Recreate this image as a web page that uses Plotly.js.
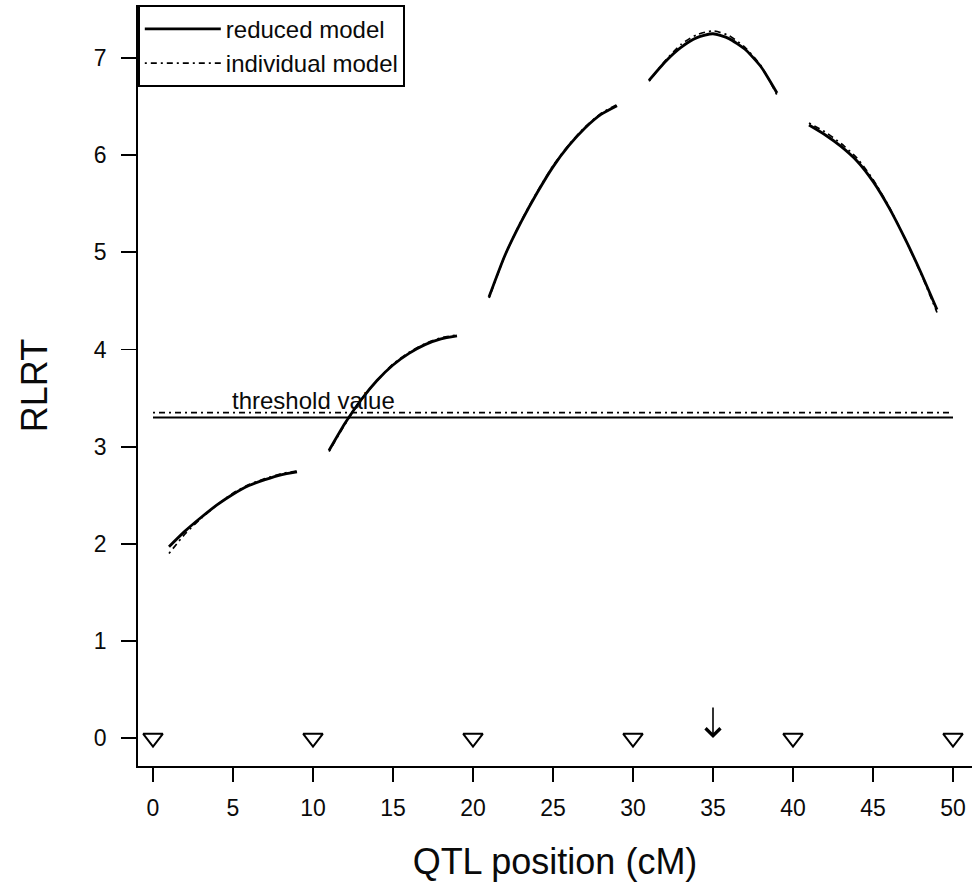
<!DOCTYPE html>
<html>
<head>
<meta charset="utf-8">
<script src="https://cdn.plot.ly/plotly-3.0.1.min.js"></script>
<style>
  html, body { margin: 0; padding: 0; background: #ffffff; }
  #chart { width: 972px; height: 888px; }
</style>
</head>
<body>
<div id="chart"></div>
<script>
// QTL scan positions (cM); gaps at the markers 10, 20, 30, 40
const positions = [
  1, 2, 3, 4, 5, 6, 7, 8, 9, 10,
  11, 12, 13, 14, 15, 16, 17, 18, 19, 20,
  21, 22, 23, 24, 25, 26, 27, 28, 29, 30,
  31, 32, 33, 34, 35, 36, 37, 38, 39, 40,
  41, 42, 43, 44, 45, 46, 47, 48, 49
];

// RLRT profile, reduced model
const rlrtReduced = [
  1.97, 2.13, 2.27, 2.40, 2.51, 2.60, 2.66, 2.71, 2.74, null,
  2.96, 3.24, 3.48, 3.68, 3.84, 3.96, 4.05, 4.11, 4.14, null,
  4.54, 4.97, 5.31, 5.61, 5.88, 6.10, 6.28, 6.42, 6.51, null,
  6.77, 6.96, 7.11, 7.21, 7.25, 7.20, 7.09, 6.91, 6.64, null,
  6.31, 6.21, 6.09, 5.94, 5.73, 5.46, 5.14, 4.79, 4.41
];

// RLRT profile, individual model
const rlrtIndividual = [
  1.90, 2.10, 2.26, 2.40, 2.52, 2.61, 2.67, 2.72, 2.75, null,
  2.95, 3.23, 3.48, 3.68, 3.85, 3.97, 4.06, 4.12, 4.15, null,
  4.53, 4.97, 5.32, 5.62, 5.89, 6.11, 6.29, 6.43, 6.52, null,
  6.76, 6.97, 7.14, 7.24, 7.28, 7.23, 7.11, 6.92, 6.62, null,
  6.33, 6.24, 6.12, 5.97, 5.75, 5.47, 5.14, 4.78, 4.38
];

// Marker loci and significance thresholds
const markerPositions = [0, 10, 20, 30, 40, 50];
const markerLevel = [0, 0, 0, 0, 0, 0];
const thresholdReduced = 3.30;
const thresholdIndividual = 3.35;
const trueQtlPosition = 35;

const xTicks = [0, 5, 10, 15, 20, 25, 30, 35, 40, 45, 50];
const yTicks = [0, 1, 2, 3, 4, 5, 6, 7];

const chromStart = markerPositions[0];
const chromEnd = markerPositions[markerPositions.length - 1];
const dashDot = '2px,4px,6px,4px';
const font = 'Liberation Sans, Arial, sans-serif';
const ink = '#0a0a0a';

const traces = [
  {
    x: positions, y: rlrtReduced, type: 'scatter', mode: 'lines',
    name: 'reduced model', connectgaps: false,
    line: { color: '#000000', width: 2.8, shape: 'spline', smoothing: 0.6 }
  },
  {
    x: positions, y: rlrtIndividual, type: 'scatter', mode: 'lines',
    name: 'individual model', connectgaps: false,
    line: { color: '#000000', width: 1.7, dash: dashDot, shape: 'spline', smoothing: 0.6 }
  },
  {
    x: [chromStart, chromEnd], y: [thresholdReduced, thresholdReduced],
    type: 'scatter', mode: 'lines', showlegend: false, hoverinfo: 'skip',
    line: { color: '#000000', width: 2 }
  },
  {
    x: [chromStart, chromEnd], y: [thresholdIndividual, thresholdIndividual],
    type: 'scatter', mode: 'lines', showlegend: false, hoverinfo: 'skip',
    line: { color: '#000000', width: 1.7, dash: dashDot }
  },
  {
    x: markerPositions, y: markerLevel, type: 'scatter', mode: 'markers',
    showlegend: false,
    marker: { symbol: 'triangle-down-open', size: 17, color: '#000000', line: { width: 2 } }
  }
];

const layout = {
  width: 972, height: 888,
  margin: { l: 138, r: 0, t: 5, b: 122, pad: 0 },
  paper_bgcolor: '#ffffff', plot_bgcolor: '#ffffff',
  font: { family: font, color: ink, size: 23 },
  showlegend: true,
  legend: {
    x: 0, y: 1, xanchor: 'left', yanchor: 'top',
    bordercolor: '#000000', borderwidth: 1.8, bgcolor: '#ffffff',
    font: { family: font, size: 24, color: ink },
    itemwidth: 76
  },
  xaxis: {
    range: [-0.9375, 51.1875], autorange: false,
    tickmode: 'array', tickvals: xTicks,
    ticks: 'outside', ticklen: 14, tickwidth: 1.8, tickcolor: '#000000',
    showline: true, linecolor: '#000000', linewidth: 1.8,
    showgrid: false, zeroline: false,
    tickfont: { family: font, size: 23, color: ink },
    ticklabelstandoff: 7,
    title: { text: 'QTL position (cM)', font: { family: font, size: 36, color: ink }, standoff: 28 },
    automargin: false
  },
  yaxis: {
    range: [-0.288, 7.546], autorange: false,
    tickmode: 'array', tickvals: yTicks,
    ticks: 'outside', ticklen: 15, tickwidth: 1.8, tickcolor: '#000000',
    showline: true, linecolor: '#000000', linewidth: 1.8,
    showgrid: false, zeroline: false,
    tickfont: { family: font, size: 23, color: ink },
    ticklabelstandoff: 10,
    title: { text: 'RLRT', font: { family: font, size: 36, color: ink }, standoff: 35 },
    automargin: false
  },
  annotations: [
    {
      x: 10, y: thresholdIndividual, xref: 'x', yref: 'y',
      text: 'threshold value', showarrow: false,
      xanchor: 'center', yanchor: 'bottom', yshift: -3,
      font: { family: font, size: 24, color: ink }
    },
    {
      x: trueQtlPosition, y: 0, xref: 'x', yref: 'y',
      text: '', showarrow: true, arrowhead: 4, arrowsize: 1.8, arrowwidth: 1.6,
      arrowcolor: '#000000', ax: 0, ay: -32, standoff: 0
    }
  ]
};

Plotly.newPlot('chart', traces, layout, { staticPlot: true, displayModeBar: false });
</script>
</body>
</html>
